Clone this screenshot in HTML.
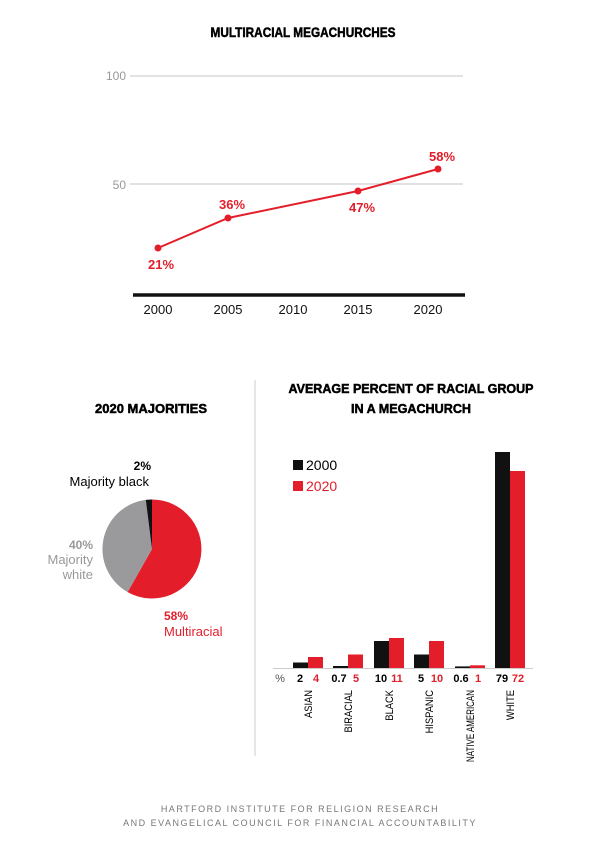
<!DOCTYPE html>
<html><head><style>
body{margin:0;background:#fff;}
svg{display:block;}
.t{font-family:"Liberation Sans",sans-serif;}
</style></head><body>
<svg width="600" height="845" viewBox="0 0 600 845" xmlns="http://www.w3.org/2000/svg" class="t">
<text x="303" y="37" text-anchor="middle" font-size="14" font-weight="bold" stroke="#000" stroke-width="0.5" textLength="185" lengthAdjust="spacingAndGlyphs">MULTIRACIAL MEGACHURCHES</text>
<line x1="130" y1="76" x2="463" y2="76" stroke="#d8d8d8" stroke-width="1.5"/>
<line x1="130" y1="184" x2="463" y2="184" stroke="#d8d8d8" stroke-width="1.5"/>
<text x="126" y="80" text-anchor="end" font-size="12" fill="#999">100</text>
<text x="126" y="189" text-anchor="end" font-size="12" fill="#999">50</text>
<line x1="133" y1="295" x2="465" y2="295" stroke="#111" stroke-width="3.5"/>
<g font-size="13" text-anchor="middle" fill="#111">
<text x="158" y="314">2000</text><text x="228" y="314">2005</text><text x="293" y="314">2010</text><text x="358" y="314">2015</text><text x="428" y="314">2020</text></g>
<polyline points="158,248 228,218 358,191 438,169" fill="none" stroke="#e31e2a" stroke-width="2"/>
<g fill="#e31e2a"><circle cx="158" cy="248" r="3.5"/><circle cx="228" cy="218" r="3.5"/><circle cx="358" cy="191" r="3.5"/><circle cx="438" cy="169" r="3.5"/></g>
<g fill="#e31e2a" font-size="13" font-weight="bold" text-anchor="middle">
<text x="161" y="269">21%</text><text x="232" y="209">36%</text><text x="362" y="212">47%</text><text x="442" y="161">58%</text></g>

<text x="151" y="413" text-anchor="middle" font-size="13" font-weight="bold" stroke="#000" stroke-width="0.5" textLength="112" lengthAdjust="spacingAndGlyphs">2020 MAJORITIES</text>
<text x="411" y="393" text-anchor="middle" font-size="13" font-weight="bold" stroke="#000" stroke-width="0.5" textLength="245" lengthAdjust="spacingAndGlyphs">AVERAGE PERCENT OF RACIAL GROUP</text>
<text x="411" y="413" text-anchor="middle" font-size="13" font-weight="bold" stroke="#000" stroke-width="0.5" textLength="120" lengthAdjust="spacingAndGlyphs">IN A MEGACHURCH</text>
<line x1="255" y1="380" x2="255" y2="756" stroke="#ccc" stroke-width="1"/>

<path d="M152,549 L152,499.5 A49.5,49.5 0 1 1 127.6,592.1 Z" fill="#e31e2a"/>
<path d="M152,549 L127.6,592.1 A49.5,49.5 0 0 1 145.8,499.9 Z" fill="#9a9a9c"/>
<path d="M152,549 L145.8,499.9 A49.5,49.5 0 0 1 152,499.5 Z" fill="#111"/>
<text x="151" y="470" text-anchor="end" font-size="12" font-weight="bold">2%</text>
<text x="149" y="486" text-anchor="end" font-size="13">Majority black</text>
<text x="93" y="549" text-anchor="end" font-size="12" font-weight="bold" fill="#999">40%</text>
<text x="93" y="564" text-anchor="end" font-size="13" fill="#999">Majority</text>
<text x="93" y="579" text-anchor="end" font-size="13" fill="#999">white</text>
<text x="164" y="620" font-size="12" font-weight="bold" fill="#e31e2a">58%</text>
<text x="164" y="636" font-size="13" fill="#e31e2a">Multiracial</text>

<rect x="293" y="460" width="10" height="10" fill="#111"/><text x="306" y="470" font-size="14">2000</text>
<rect x="293" y="481" width="10" height="10" fill="#e31e2a"/><text x="306" y="491" font-size="14" fill="#e31e2a">2020</text>

<g fill="#111">
<rect x="293" y="662.5" width="15" height="5.5"/>
<rect x="333" y="666" width="15" height="2"/>
<rect x="374" y="641" width="15" height="27"/>
<rect x="414" y="654.5" width="15" height="13.5"/>
<rect x="455" y="666.4" width="15" height="1.6"/>
<rect x="495" y="452" width="15" height="216"/>
</g>
<g fill="#e31e2a">
<rect x="308" y="657" width="15" height="11"/>
<rect x="348" y="654.5" width="15" height="13.5"/>
<rect x="389" y="638" width="15" height="30"/>
<rect x="429" y="641" width="15" height="27"/>
<rect x="470" y="665.3" width="15" height="2.7"/>
<rect x="510" y="471" width="15" height="197"/>
</g>
<line x1="273" y1="668.5" x2="533" y2="668.5" stroke="#ccc" stroke-width="1"/>
<g font-size="11" font-weight="bold" text-anchor="middle">
<text x="280" y="682" fill="#555" font-weight="normal">%</text>
<text x="300" y="682">2</text><text x="316" y="682" fill="#e31e2a">4</text>
<text x="339" y="682">0.7</text><text x="356" y="682" fill="#e31e2a">5</text>
<text x="381" y="682">10</text><text x="397" y="682" fill="#e31e2a">11</text>
<text x="421" y="682">5</text><text x="437" y="682" fill="#e31e2a">10</text>
<text x="461" y="682">0.6</text><text x="478" y="682" fill="#e31e2a">1</text>
<text x="502" y="682">79</text><text x="518" y="682" fill="#e31e2a">72</text>
</g>
<g font-size="11" text-anchor="end">
<text transform="translate(312,690) rotate(-90) scale(0.85,1)">ASIAN</text>
<text transform="translate(352,690) rotate(-90) scale(0.85,1)">BIRACIAL</text>
<text transform="translate(393,690) rotate(-90) scale(0.85,1)">BLACK</text>
<text transform="translate(433,690) rotate(-90) scale(0.85,1)">HISPANIC</text>
<text transform="translate(474,690) rotate(-90)" textLength="72" lengthAdjust="spacingAndGlyphs">NATIVE AMERICAN</text>
<text transform="translate(514,690) rotate(-90) scale(0.85,1)">WHITE</text>
</g>

<text x="300" y="812" text-anchor="middle" font-size="9" fill="#777" letter-spacing="1.5">HARTFORD INSTITUTE FOR RELIGION RESEARCH</text>
<text x="300" y="826" text-anchor="middle" font-size="9" fill="#777" letter-spacing="1.5">AND EVANGELICAL COUNCIL FOR FINANCIAL ACCOUNTABILITY</text>
</svg>
</body></html>
